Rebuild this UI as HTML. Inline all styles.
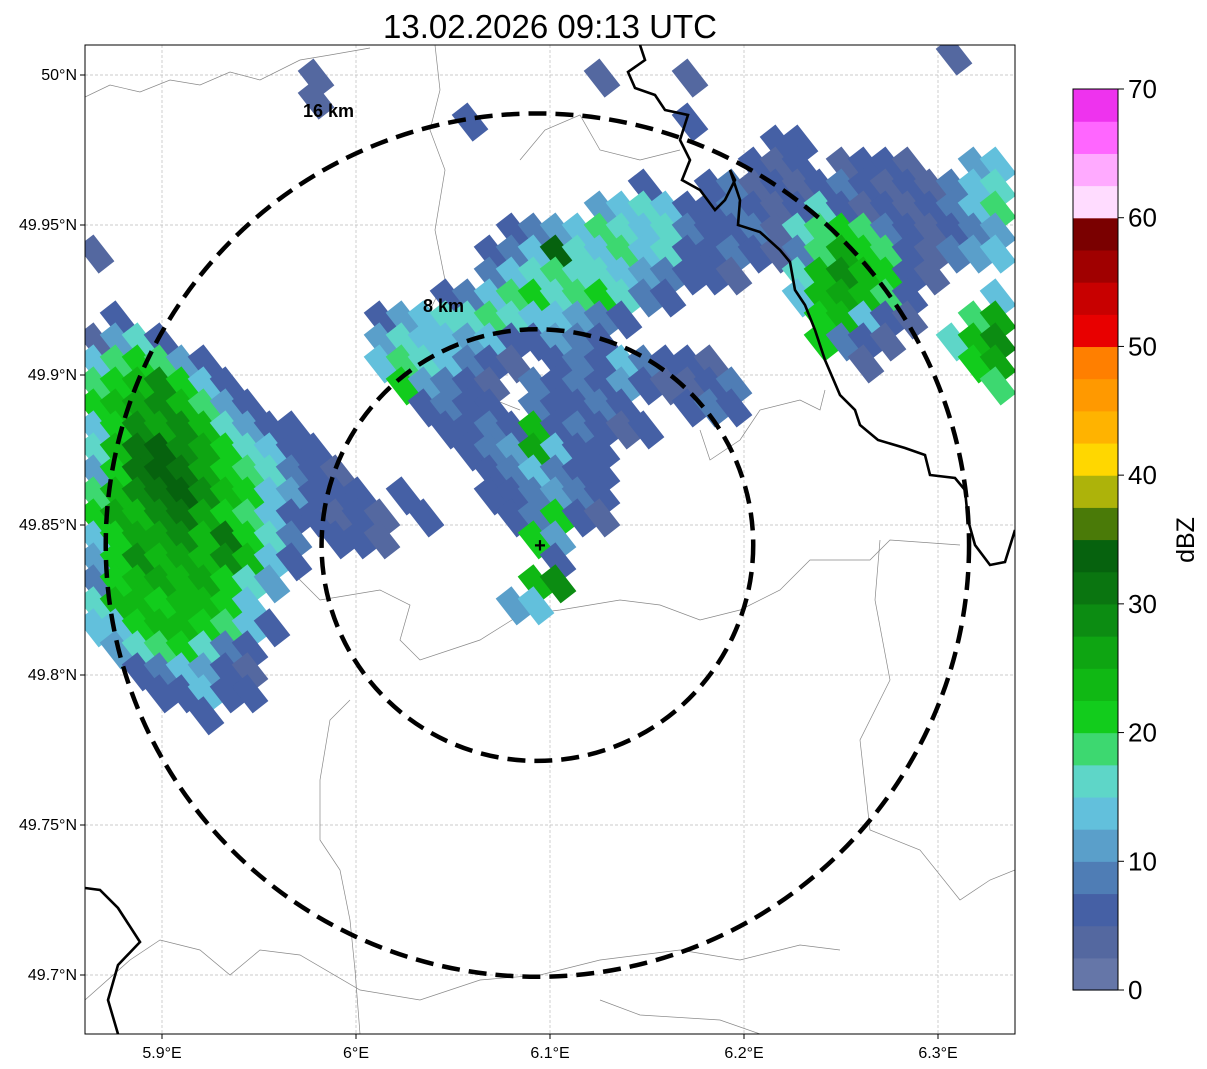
<!DOCTYPE html>
<html><head><meta charset="utf-8"><style>
html,body{margin:0;padding:0;background:#fff;}
svg{display:block;font-family:"Liberation Sans",sans-serif;}
</style></head><body>
<svg id="chart" width="1207" height="1069" viewBox="0 0 1207 1069" xmlns="http://www.w3.org/2000/svg">
<defs><clipPath id="mapclip"><rect x="85" y="45" width="930" height="989"/></clipPath></defs>
<rect x="0" y="0" width="1207" height="1069" fill="#fff"/>
<text x="550" y="38" font-size="33" text-anchor="middle" fill="#000">13.02.2026 09:13 UTC</text>
<g id="map" clip-path="url(#mapclip)">
 <g id="grid"></g>
 <g id="borders" fill="none">
  <path d="M85,97 L110,85 L140,92 L170,80 L200,85 L230,72 L260,80 L300,60 L330,55 L370,48" stroke="#888" stroke-width="0.7"/>
  <path d="M435,45 L440,90 L430,130 L445,170 L435,230 L445,280 L430,310 L455,330 L470,390 L520,410" stroke="#888" stroke-width="0.7"/>
  <path d="M520,160 L545,130 L580,115 L600,150 L640,160 L680,150" stroke="#888" stroke-width="0.7"/>
  <path d="M700,430 L710,460 L740,440 L760,410 L800,400 L820,410 L825,390" stroke="#888" stroke-width="0.7"/>
  <path d="M85,620 L130,640 L200,560 L280,560 L320,600 L350,595 L380,590 L410,605 L400,640 L420,660 L480,640 L520,615 L560,610 L620,600 L660,605 L700,620 L740,610 L780,590 L810,560 L870,560 L890,540 L960,545" stroke="#888" stroke-width="0.7"/>
  <path d="M350,700 L330,720 L320,780 L320,840 L340,870 L350,920 L355,970 L360,1034" stroke="#888" stroke-width="0.7"/>
  <path d="M85,1000 L130,960 L160,940 L200,950 L230,975 L260,950 L300,955 L360,990 L420,1000 L480,980 L540,975 L600,960 L680,950 L740,960 L800,945 L840,950" stroke="#888" stroke-width="0.7"/>
  <path d="M880,540 L875,600 L890,680 L860,740 L870,830 L920,850 L960,900 L990,880 L1015,870" stroke="#888" stroke-width="0.7"/>
  <path d="M600,1000 L640,1015 L720,1020 L760,1034" stroke="#888" stroke-width="0.7"/>
 </g>
 <g id="cells"></g>
 <g id="intl" fill="none" stroke="#000" stroke-width="2.6">
  <path d="M640,45 L645,60 L628,72 L635,88 L655,95 L665,110 L688,115 L680,140 L690,160 L682,180 L700,190 L715,210 L725,200 L735,180 L730,170 L740,200 L738,225 L760,232 L780,250 L790,262 L795,290 L805,305 L815,330 L825,360 L840,395 L855,410 L860,425 L878,440 L905,448 L925,455 L930,475 L955,478 L965,490 L968,520 L975,545 L990,565 L1005,562 L1015,530"/>
  <path d="M85,888 L100,890 L118,908 L140,942 L118,965 L108,1000 L118,1034"/>
 </g>
 <g id="rings" fill="none" stroke="#000" stroke-width="4.5" stroke-dasharray="18,9"></g>
 <text x="303" y="117" font-size="18" font-weight="bold">16 km</text>
 <text x="423" y="312" font-size="18" font-weight="bold">8 km</text>
 <text x="540" y="552" font-size="20" font-weight="bold" text-anchor="middle">+</text>
</g>
<rect x="85" y="45" width="930" height="989" fill="none" stroke="#000" stroke-width="1"/>
<g id="axes" font-size="16" fill="#000"></g>
<g id="cbar"></g>
<text transform="translate(1194,540) rotate(-90)" font-size="25" text-anchor="middle">dBZ</text>
</svg>
<script>
const lonTicks=[5.9,6.0,6.1,6.2,6.3];
const lonLabels=["5.9°E","6°E","6.1°E","6.2°E","6.3°E"];
const latTicks=[50.0,49.95,49.9,49.85,49.8,49.75,49.7];
const latLabels=["50°N","49.95°N","49.9°N","49.85°N","49.8°N","49.75°N","49.7°N"];
const cbarTicks=[0,10,20,30,40,50,60,70];
const levelColors=["#6576a8","#5468a0","#4560a5","#4f7db5","#5a9fca","#62c0dc","#5ed6c8","#3dd870","#12cc1c","#10b814","#0ea512","#0c8c12","#0a7510","#06620e","#4a7a08","#adb30a","#ffd700","#ffb300","#ff9900","#ff7f00","#e80000","#c80000","#a00000","#7a0000","#ffdcff","#ffaaff","#ff66ff","#ee33ee"];
const radarLon=6.0935, radarLat=49.8433;
const ringKm=[8,16];
const gridLon0=5.866, gridLat0=50.0063, gridDLon=0.01134, gridDLat=0.00733;
const echoRows=[
[[39,"1"]],
[[10,"1"],[23,"1"],[27,"1"]],
[[10,"1"]],
[[17,"2"],[27,"2"]],
[[31,"22"]],
[[30,"212"],[34,"1221"],[40,"45"]],
[[25,"2"],[28,"23121232121356"]],
[[23,"4565223212621212357"]],
[[19,"23457656322316787321234"]],
[[0,"1"],[18,"235d657562232137a8721345"]],
[[18,"356766543221"],[32,"69b9821"]],
[[16,"23578678632"],[32,"59a972"],[41,"5"]],
[[1,"2"],[13,"245667655432"],[33,"89521"],[40,"7a"]],
[[0,"1462"],[13,"46554522432"],[33,"8321"],[39,"69b"]],
[[0,"578742"],[13,"5765321.23253221"],[35,"1"],[40,"8a"]],
[[0,"789b852"],[14,"84321.3232421123"],[41,"7"]],
[[0,"89ab9742"],[15,"2322.32232..232"]],
[[0,"58bab96422"],[16,"2232923212"]],
[[0,"69cdba86522"],[17,"234a522"]],
[[0,"48cdca876321"],[18,"235322"]],
[[0,"79bcdb9854222"],[14,"2"],[18,"223432"]],
[[0,"8a9bca87522121.2"],[19,"23821"]],
[[0,"58aab9c863.221"],[20,"84"]],
[[0,"48b9a9b952"],[21,"2"]],
[[0,"389a9a864"],[20,"9b"]],
[[0,"69989985"],[19,"45"]],
[[0,"558998752"]],
[[1,"4678632"]],
[[2,"235421"]],
[[3,"22522"]],
[[5,"2"]]
];
const NS="http://www.w3.org/2000/svg";
function xOf(lon){return 162+(lon-5.9)*1940;}
function yOf(lat){return 75+(50-lat)*3000;}
function mk(tag,attrs,parent){const e=document.createElementNS(NS,tag);for(const k in attrs)e.setAttribute(k,attrs[k]);parent.appendChild(e);return e;}
const grid=document.getElementById('grid');
lonTicks.forEach(v=>{const l=mk('line',{x1:xOf(v),x2:xOf(v),y1:45,y2:1034,stroke:'#bbb','stroke-width':0.7,'stroke-dasharray':'3,2'},grid);

});
latTicks.forEach(v=>{const l=mk('line',{x1:85,x2:1015,y1:yOf(v),y2:yOf(v),stroke:'#bbb','stroke-width':0.7,'stroke-dasharray':'3,2'},grid);

});
const cells=document.getElementById('cells');
echoRows.forEach((segs,r)=>{segs.forEach(seg=>{const s=seg[1];for(let i=0;i<s.length;i++){const ch=s[i];if(ch==='.')continue;const lvl=parseInt(ch,16);
const lon=gridLon0+(seg[0]+i)*gridDLon, lat=gridLat0-r*gridDLat;const cx=xOf(lon),cy=yOf(lat);
const rc=mk('rect',{x:cx-17,y:cy-10,width:34,height:20,fill:levelColors[lvl],transform:`rotate(52 ${cx} ${cy})`},cells);

}});});
const rings=document.getElementById('rings');
const cx0=xOf(radarLon),cy0=yOf(radarLat);
ringKm.forEach(k=>{const ry=k/111.2/0.05*150;const rx=ry;const c=mk('ellipse',{cx:cx0,cy:cy0,rx:rx,ry:ry},rings);

});
const axes=document.getElementById('axes');
lonTicks.forEach((v,i)=>{mk('line',{x1:xOf(v),x2:xOf(v),y1:1034,y2:1039,stroke:'#000'},axes);const t=mk('text',{x:xOf(v),y:1058,'text-anchor':'middle'},axes);t.textContent=lonLabels[i];

});
latTicks.forEach((v,i)=>{mk('line',{x1:80,x2:85,y1:yOf(v),y2:yOf(v),stroke:'#000'},axes);const t=mk('text',{x:77,y:yOf(v)+5,'text-anchor':'end'},axes);t.textContent=latLabels[i];

});
const cb=document.getElementById('cbar');
const cbTop=89,cbBot=990,cbX=1073,cbW=45;
function cbY(v){return cbBot-(v/70)*(cbBot-cbTop);}
levelColors.forEach((c,i)=>{const r=mk('rect',{x:cbX,y:cbY((i+1)*2.5),width:cbW,height:cbY(i*2.5)-cbY((i+1)*2.5)+0.6,fill:c},cb);

});
mk('rect',{x:cbX,y:cbTop,width:cbW,height:cbBot-cbTop,fill:'none',stroke:'#000','stroke-width':1},cb);
cbarTicks.forEach(v=>{mk('line',{x1:cbX+cbW,x2:cbX+cbW+6,y1:cbY(v),y2:cbY(v),stroke:'#000'},cb);const t=mk('text',{x:1128,y:cbY(v)+9,'font-size':26},cb);t.textContent=v;

});
</script>
</body></html>
